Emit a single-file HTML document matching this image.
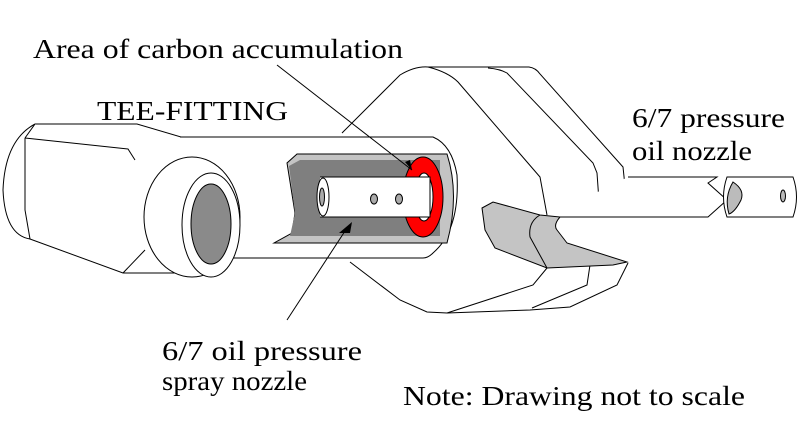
<!DOCTYPE html>
<html><head><style>
html,body{margin:0;padding:0;background:#fff;}
svg{display:block;}
text{font-family:"Liberation Serif",serif;font-size:27px;fill:#000;}
</style></head><body>
<svg width="798" height="443" viewBox="0 0 798 443" xmlns="http://www.w3.org/2000/svg">
<g fill="none" stroke="#000" stroke-width="1">
<!-- big body -->
<path d="M342,133 L400,75 Q415,66 428,67 L529,67 Q536,68 540,74 L623,167 L628,215" fill="#fff"/>
<path d="M488,68 Q500,69 507,73 L593,163 L597,173 L600,215"/>
<path d="M428,67 Q448,72 458,82 L540,177 L547,215"/>
<path d="M350,262 L400,300 L427,312 L447,313 L530,310 L570,307 L617,285 L628,263"/>
<path d="M447,313 L533,285 L547,268"/>
<path d="M532,308 L587,285 L590,265"/>
<!-- rod -->
<path d="M628,177 L717,177 L708,183 L727,200 L708,217 L547,217" fill="#fff"/>
<path d="M727,177 L793,177 Q800,197 793,217 L727,217 Q720,197 727,177 Z" fill="#fff"/>
<path d="M733,182 Q745,190 741,200 Q735,212 729,214 Q724,197 733,182 Z" fill="#bbb"/>
<ellipse cx="783" cy="196" rx="2.5" ry="6" fill="#bbb"/>
<!-- hook -->
<path d="M482,208 L493,202 L540,215 L560,217 Q553,225 557,230 L567,243 L627,262 L613,265 L547,268 L495,248 L485,230 Z" fill="#c4c4c4"/>
<path d="M540,215 Q528,222 530,237 L547,268" />
<!-- tee fitting left cap -->
<path d="M35,124 L137,124 L215,147 L220,160" />
<path d="M35,124 Q5,140 3,190 Q5,235 30,239 L123,273 L198,273" fill="#fff"/>
<path d="M25,138 L35,124 M25,138 L128,149 L135,160 M25,138 L25,210 L30,239"/>
<path d="M123,273 L145,250"/>
<!-- main tube -->
<path d="M180,137 L433,137 Q452,145 457,175 Q460,230 433,253 Q428,258 423,258 L198,258" fill="#fff"/>
<ellipse cx="192" cy="217" rx="48" ry="60" fill="#fff"/>
<ellipse cx="211" cy="225" rx="29" ry="52" fill="#fff"/>
<ellipse cx="211" cy="224" rx="20" ry="40" fill="#8a8a8a"/>
<!-- cutaway -->
<path d="M297,154 L447,154 Q460,195 447,243 L274,243 L292,233 L295,213 L287,163 Z" fill="#c4c4c4"/>
<path d="M300,160 L440,160 L440,236 L290,236 L295,213 L289,166 Z" fill="#7f7f7f" stroke="none"/>
<ellipse cx="423" cy="197" rx="20" ry="40" fill="#f00"/>
<ellipse cx="424" cy="197" rx="9" ry="24" fill="#fff"/>
<path d="M320,177 L430,177 L430,217 L320,217" fill="#fff"/>
<ellipse cx="323" cy="197" rx="6" ry="19" fill="#fff"/>
<ellipse cx="322" cy="197" rx="2.5" ry="9" fill="#aaa"/>
<ellipse cx="374" cy="199" rx="3.5" ry="5" fill="#aaa"/>
<ellipse cx="399" cy="199" rx="3.5" ry="5" fill="#aaa"/>
<!-- leader lines -->
<line x1="277" y1="65" x2="412" y2="170"/>
<line x1="287" y1="320" x2="347" y2="228"/>
</g>
<path d="M412,170 L405,162 L410,160 Z" fill="#000"/>
<path d="M352,222 L350,233 L339,233 Z" fill="#000"/>
<text x="33" y="58" textLength="370" lengthAdjust="spacingAndGlyphs">Area of carbon accumulation</text>
<text x="97" y="120" textLength="191" lengthAdjust="spacingAndGlyphs">TEE-FITTING</text>
<text x="632" y="127" textLength="153" lengthAdjust="spacingAndGlyphs">6/7 pressure</text>
<text x="632" y="160" textLength="120" lengthAdjust="spacingAndGlyphs">oil nozzle</text>
<text x="162" y="360" textLength="200" lengthAdjust="spacingAndGlyphs">6/7 oil pressure</text>
<text x="162" y="390" textLength="145" lengthAdjust="spacingAndGlyphs">spray nozzle</text>
<text x="403" y="405" textLength="342" lengthAdjust="spacingAndGlyphs">Note: Drawing not to scale</text>
</svg>
</body></html>
